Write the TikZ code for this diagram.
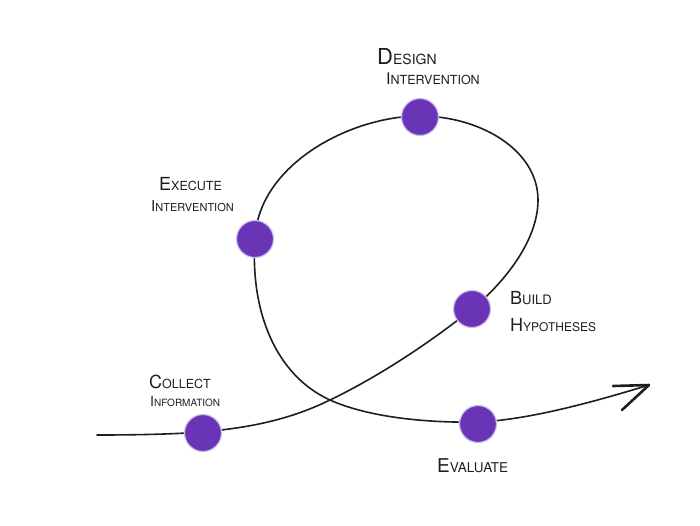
\documentclass[tikz,border=0pt]{standalone}
\usepackage{fontspec}
\setsansfont{TeX Gyre Heros}
\definecolor{dotpurple}{RGB}{106,52,182}
\definecolor{halo}{RGB}{205,188,238}
\definecolor{inkline}{RGB}{30,30,30}
\begin{document}
\begin{tikzpicture}[x=1pt,y=-1pt,
  dotstyle/.style={circle,fill=dotpurple,minimum width=37pt,minimum height=35pt,inner sep=0pt,
     draw=halo,line width=1.2pt},
  lbl/.style={font=\sffamily,text=inkline,inner sep=0pt,align=left},
  curvestyle/.style={draw=inkline,line width=1.6pt,line cap=round,line join=round}]
\useasboundingbox (0,0) rectangle (700,525);
\fill[white] (0,0) rectangle (700,525);
% main curve
\coordinate (start) at (97,435);
\coordinate (tip) at (649,385);
\draw[curvestyle] (start)
  .. controls (140,435) and (175,434) .. (203,432)
  .. controls (243,428) and (285,422) .. (330,400)
  .. controls (380,376) and (432,341) .. (472,309)
  .. controls (497,289) and (538,245) .. (538,200)
  .. controls (538,150) and (480,116) .. (420,116)
  .. controls (350,116) and (258,165) .. (255,239)
  .. controls (250,310) and (275,375) .. (330,400)
  .. controls (370,418) and (430,423) .. (478,422)
  .. controls (530,420) and (600,400) .. (tip);
% arrow head
\coordinate (upper) at (613,386);
\coordinate (lower) at (622,410);
\draw[draw=inkline,line width=2.6pt,line cap=round,line join=round] (upper) -- (tip) -- (lower);
% dots
\node[dotstyle] (design) at (420,117) {};
\node[dotstyle] (execute) at (255,239) {};
\node[dotstyle] (build) at (472,309) {};
\node[dotstyle] (collect) at (203,433) {};
\node[dotstyle] (evaluate) at (478,424) {};
% labels
\node[lbl,anchor=west] (designA) at (377,57) {{\fontsize{22}{22}\selectfont D}{\fontsize{14}{14}\selectfont ESIGN}};
\node[lbl,anchor=west] (designB) at (386,79) {{\fontsize{16}{16}\selectfont I}{\fontsize{12.5}{12.5}\selectfont NTERVENTION}};
\node[lbl,anchor=west] (executeA) at (159,184) {{\fontsize{18}{18}\selectfont E}{\fontsize{12.5}{12.5}\selectfont XECUTE}};
\node[lbl,anchor=west] (executeB) at (151,206) {{\fontsize{15}{15}\selectfont I}{\fontsize{11}{11}\selectfont NTERVENTION}};
\node[lbl,anchor=west] (buildA) at (510,298) {{\fontsize{18}{18}\selectfont B}{\fontsize{13}{13}\selectfont UILD}};
\node[lbl,anchor=west] (buildB) at (510,325) {{\fontsize{18}{18}\selectfont H}{\fontsize{12}{12}\selectfont YPOTHESES}};
\node[lbl,anchor=west] (collectA) at (149,382) {{\fontsize{18}{18}\selectfont C}{\fontsize{12.5}{12.5}\selectfont OLLECT}};
\node[lbl,anchor=west] (collectB) at (150,401) {{\fontsize{14}{14}\selectfont I}{\fontsize{10}{10}\selectfont NFORMATION}};
\node[lbl,anchor=west] (evaluateA) at (437,466) {{\fontsize{19}{19}\selectfont E}{\fontsize{13.5}{13.5}\selectfont VALUATE}};
\end{tikzpicture}
\end{document}
